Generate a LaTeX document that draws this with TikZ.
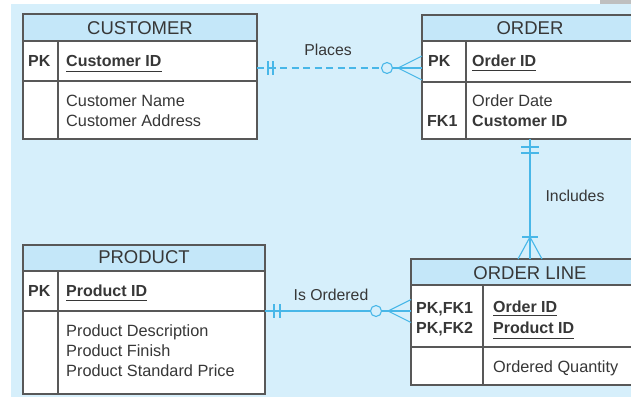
\documentclass[tikz,border=0pt]{standalone}
\usepackage{fontspec}
\setmainfont{Liberation Sans}
\usetikzlibrary{calc}
\definecolor{bgblue}{RGB}{214,239,251}
\definecolor{hdrfill}{RGB}{196,231,249}
\definecolor{lineblue}{RGB}{72,183,232}
\definecolor{boxline}{RGB}{88,88,88}
\definecolor{txt}{RGB}{55,55,55}
\begin{document}
\begin{tikzpicture}[x=1pt,y=-1pt,
  box/.style={draw=boxline,line width=1.2pt,fill=white,inner sep=0pt,outer sep=0pt,anchor=north west},
  headbox/.style={box,fill=hdrfill},
  rowbox/.style={box,fill=none},
  divider/.style={draw=boxline,line width=1.2pt},
  title/.style={font=\fontsize{18.5}{20}\selectfont,text=txt,anchor=base,inner sep=0pt},
  attr/.style={font=\fontsize{16.3}{18}\selectfont,text=txt,anchor=base west,inner sep=0pt},
  key/.style={attr,font=\fontsize{16}{18}\selectfont\bfseries},
  uline/.style={draw=txt,line width=0.9pt},
  rel/.style={draw=lineblue,line width=1.1pt},
  rellabel/.style={font=\fontsize{15.8}{18}\selectfont,text=txt,anchor=base,inner sep=0pt},
]
\useasboundingbox (0,0) rectangle (631,397);
\clip (0,0) rectangle (631,397);
% page background
\fill[bgblue] (11,4) rectangle (631,397);
\fill[black!25] (600,0) rectangle (631,4);

% ---------- CUSTOMER ----------
\node[box,minimum width=234pt,minimum height=125pt] (cust) at (23,14) {};
\node[headbox,minimum width=234pt,minimum height=27pt] (custhd) at (23,14) {};
\node[rowbox,minimum width=234pt,minimum height=40pt] (custpk) at (23,41) {};
\draw[divider] (custpk.north west -| 58,0) -- (cust.south west -| 58,0);
\node[title] (custtitle) at (140,34) {CUSTOMER};
\node[key] (custpkl) at (28,66.5) {PK};
\node[key] (custid) at (66,66.5) {Customer ID};
\draw[uline] ([yshift=-4.5pt]custid.base west) -- ([yshift=-4.5pt]custid.base east);
\node[attr] (custname) at (66,106) {Customer Name};
\node[attr] (custaddr) at (66,126) {Customer Address};

% ---------- ORDER ----------
\node[box,minimum width=216pt,minimum height=124pt] (ord) at (422,15) {};
\node[headbox,minimum width=216pt,minimum height=26pt] (ordhd) at (422,15) {};
\node[rowbox,minimum width=216pt,minimum height=41pt] (ordpk) at (422,41) {};
\draw[divider] (ordpk.north west -| 466,0) -- (ord.south west -| 466,0);
\node[title] (ordtitle) at (530,34) {ORDER};
\node[key] (ordpkl) at (428,66.5) {PK};
\node[key] (ordid) at (472,66.5) {Order ID};
\draw[uline] ([yshift=-4pt]ordid.base west) -- ([yshift=-4pt]ordid.base east);
\node[attr] (orddate) at (472,106) {Order Date};
\node[key] (ordfk) at (427,126.5) {FK1};
\node[key] (ordcust) at (472,126.5) {Customer ID};

% ---------- PRODUCT ----------
\node[box,minimum width=242pt,minimum height=149pt] (prod) at (23,245) {};
\node[headbox,minimum width=242pt,minimum height=26pt] (prodhd) at (23,245) {};
\node[rowbox,minimum width=242pt,minimum height=40pt] (prodpk) at (23,271) {};
\draw[divider] (prodpk.north west -| 58,0) -- (prod.south west -| 58,0);
\node[title] (prodtitle) at (144,263) {PRODUCT};
\node[key] (prodpkl) at (28,296.5) {PK};
\node[key] (prodid) at (66,296) {Product ID};
\draw[uline] ([yshift=-4.5pt]prodid.base west) -- ([yshift=-4.5pt]prodid.base east);
\node[attr] (proddesc) at (66,336) {Product Description};
\node[attr] (prodfin) at (66,356) {Product Finish};
\node[attr] (prodprice) at (66,376) {Product Standard Price};

% ---------- ORDER LINE ----------
\node[box,minimum width=238pt,minimum height=126pt] (oline) at (411,259) {};
\node[headbox,minimum width=238pt,minimum height=26pt] (olinehd) at (411,259) {};
\node[rowbox,minimum width=238pt,minimum height=62pt] (olkey) at (411,285) {};
\draw[divider] (olkey.north west -| 483,0) -- (oline.south west -| 483,0);
\node[title] (oltitle) at (530,279) {ORDER LINE};
\node[key] (olfk1) at (416,313) {PK,FK1};
\node[key] (olfk2) at (416,333) {PK,FK2};
\node[key] (olord) at (493,312) {Order ID};
\draw[uline] ([yshift=-3pt]olord.base west) -- ([yshift=-3pt]olord.base east);
\node[key] (olprod) at (493,333) {Product ID};
\draw[uline] ([yshift=-5pt]olprod.base west) -- ([yshift=-5pt]olprod.base east);
\node[attr] (olqty) at (493,372) {Ordered Quantity};

% ---------- Places: CUSTOMER (one) to ORDER (zero or many), dashed ----------
\coordinate (pa) at ([yshift=-7pt]custpk.east);
\coordinate (pb) at (ordpk.west |- pa);
\draw[rel,dash pattern=on 7pt off 4.5pt] (pa) -- ([xshift=-40.5pt]pb);
\draw[rel] ([xshift=11pt]pa) ++(0,-7) -- ++(0,14);
\draw[rel] ([xshift=16pt]pa) ++(0,-7) -- ++(0,14);
\draw[rel] ([xshift=-35pt]pb) circle (5.5pt);
\draw[rel] ([xshift=-29.5pt]pb) -- (pb);
\draw[rel] ([xshift=-24pt]pb) -- ([yshift=12pt]pb);
\draw[rel] ([xshift=-24pt]pb) -- ([yshift=-12pt]pb);
\node[rellabel] (placeslbl) at (328,55) {Places};

% ---------- Is Ordered: PRODUCT (one) to ORDER LINE (zero or many) ----------
\coordinate (qa) at (prodpk.south east);
\coordinate (qb) at (olkey.west |- qa);
\draw[rel] (qa) -- ([xshift=-40.5pt]qb);
\draw[rel] ([xshift=9pt]qa) ++(0,-7) -- ++(0,14);
\draw[rel] ([xshift=15pt]qa) ++(0,-7) -- ++(0,14);
\draw[rel] ([xshift=-35pt]qb) circle (5.5pt);
\draw[rel] ([xshift=-29.5pt]qb) -- (qb);
\draw[rel] ([xshift=-23pt]qb) -- ([yshift=11.5pt]qb);
\draw[rel] ([xshift=-23pt]qb) -- ([yshift=-11.5pt]qb);
\node[rellabel] (orderedlbl) at (331,300) {Is Ordered};

% ---------- Includes: ORDER (one) to ORDER LINE (one or many) ----------
\coordinate (ra) at (ord.south);
\coordinate (rb) at (oline.north);
\draw[rel] (ra) -- (rb);
\draw[rel] ([yshift=-8pt]ra) ++(-9,0) -- ++(18,0);
\draw[rel] ([yshift=-14pt]ra) ++(-9,0) -- ++(18,0);
\draw[rel] ([yshift=22pt]rb) ++(-8,0) -- ++(16,0);
\draw[rel] ([yshift=22pt]rb) -- ([xshift=-12pt]rb);
\draw[rel] ([yshift=22pt]rb) -- ([xshift=12pt]rb);
\node[rellabel] (includeslbl) at (575,201) {Includes};
\end{tikzpicture}
\end{document}
